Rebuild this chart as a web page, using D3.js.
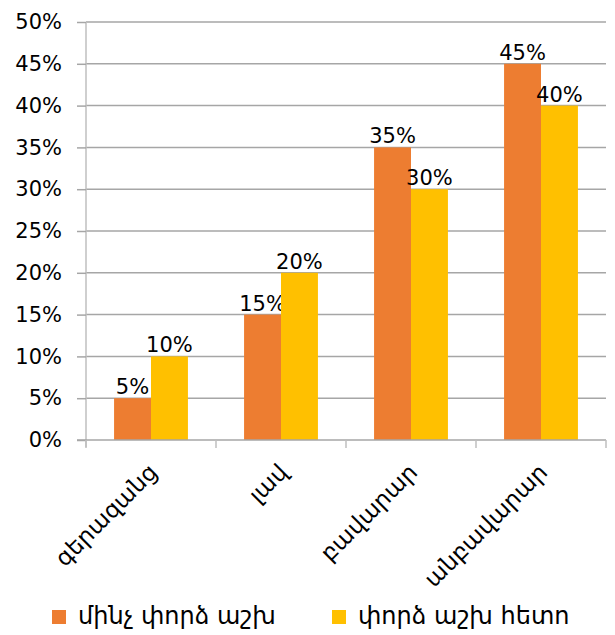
<!DOCTYPE html>
<html><head><meta charset="utf-8">
<script src="https://cdn.jsdelivr.net/npm/d3@7"></script>
<style>
html,body{margin:0;padding:0;background:#fff;}
text{font-family:"DejaVu Sans",sans-serif;fill:#000;}
</style></head>
<body>
<svg id="c" width="615" height="635"></svg>
<script>
const categories = ["գերազանց", "լավ", "բավարար", "անբավարար"];
const seriesNames = ["մինչ փորձ աշխ", "փորձ աշխ հետո"];
const before = [5, 15, 35, 45];
const after = [10, 20, 30, 40];
const yTicks = [0, 5, 10, 15, 20, 25, 30, 35, 40, 45, 50];
const colors = ["#ED7D31", "#FFC000"];

const svg = d3.select("#c");
const mLeft = 86, mRight = 606, mTop = 22, mBottom = 440;

const x = d3.scaleBand().domain(categories).range([mLeft, mRight]).paddingInner(0).paddingOuter(0);
const x1 = d3.scaleBand().domain([0, 1]).range([0, x.bandwidth()]).paddingInner(0).paddingOuter(0.76);
const y = d3.scaleLinear().domain([0, 50]).range([mBottom, mTop]);

// gridlines
svg.append("g").selectAll("line").data(yTicks.filter(d => d > 0)).join("line")
  .attr("x1", mLeft).attr("x2", mRight)
  .attr("y1", d => y(d)).attr("y2", d => y(d))
  .attr("stroke", "#A6A6A6").attr("stroke-width", 1.5);

// y axis
const yAxis = svg.append("g").attr("transform", `translate(${mLeft},0)`)
  .call(d3.axisLeft(y).tickValues(yTicks).tickFormat(d => d + "%").tickSize(9).tickPadding(15));
yAxis.select(".domain").attr("stroke", "#BFBFBF").attr("stroke-width", 1.5).attr("d", `M0,${mTop}V${mBottom + 7}`);
yAxis.selectAll(".tick line").attr("stroke", "#A6A6A6").attr("stroke-width", 1.5);
yAxis.selectAll(".tick text").attr("font-size", 21).attr("font-family", "DejaVu Sans").attr("fill", "#000");

// bars
const data = [before, after];
data.forEach((vals, si) => {
  svg.append("g").selectAll("rect").data(categories).join("rect")
    .attr("x", c => x(c) + x1(si))
    .attr("width", x1.bandwidth())
    .attr("y", (c, i) => y(vals[i]))
    .attr("height", (c, i) => y(0) - y(vals[i]))
    .attr("fill", colors[si]);
  svg.append("g").selectAll("text").data(categories).join("text")
    .attr("x", c => x(c) + x1(si) + x1.bandwidth() / 2)
    .attr("y", (c, i) => y(vals[i]) - 4)
    .attr("text-anchor", "middle")
    .attr("font-size", 21)
    .text((c, i) => vals[i] + "%");
});

// x axis
const xAxis = svg.append("g").attr("transform", `translate(0,${mBottom})`)
  .call(d3.axisBottom(x).tickSize(0).tickFormat(""));
xAxis.select(".domain").attr("stroke", "#A6A6A6").attr("stroke-width", 1.5).attr("d", `M${mLeft - 9},0H${mRight}`);
const bounds = categories.map(c => x(c)).concat([mRight]);
xAxis.append("g").selectAll("line").data(bounds).join("line")
  .attr("x1", d => d).attr("x2", d => d).attr("y1", 0).attr("y2", 8)
  .attr("stroke", "#BFBFBF").attr("stroke-width", 1.5);
xAxis.append("g").selectAll("text").data(categories).join("text")
  .attr("transform", c => `translate(${x(c) + x.bandwidth() / 2 + 2},${28}) rotate(-45)`)
  .attr("text-anchor", "end")
  .attr("dy", "0.35em")
  .attr("font-size", 23)
  .text(c => c);

// legend
const legX = [52, 332];
seriesNames.forEach((n, i) => {
  const g = svg.append("g").attr("transform", `translate(${legX[i]},610)`);
  g.append("rect").attr("width", 14).attr("height", 14).attr("fill", colors[i]);
  g.append("text").attr("x", 26).attr("y", 14)
    .attr("font-size", 24).text(n);
});
</script>
</body></html>
